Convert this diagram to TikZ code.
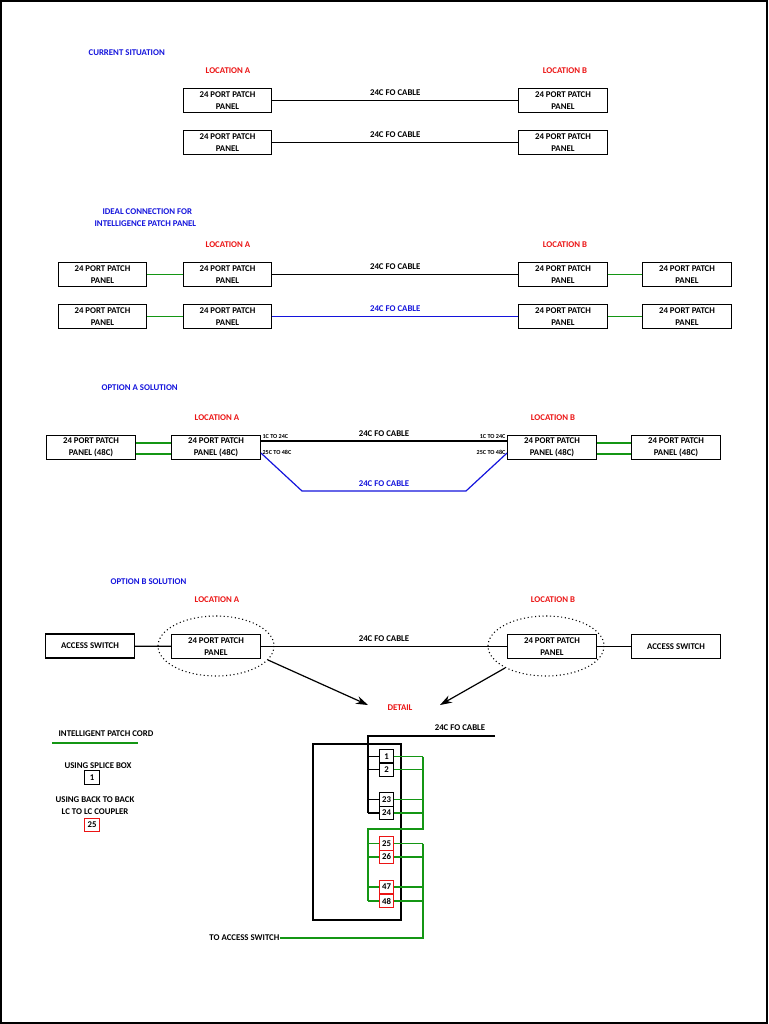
\documentclass[tikz,border=0pt]{standalone}
\usepackage{fontspec}
\setmainfont{Carlito}
\usetikzlibrary{arrows.meta}
\definecolor{gr}{RGB}{20,150,20}
\definecolor{bl}{RGB}{20,20,220}
\definecolor{rd}{RGB}{235,20,20}
\begin{document}
\begin{tikzpicture}[x=0.75pt,y=-0.75pt,line width=0.9pt,
 t/.style={font=\bfseries\fontsize{6.6}{7}\selectfont,inner sep=0pt},
 tb/.style={t,text=bl,anchor=west},
 tr/.style={t,text=rd},
 pp/.style={draw,line width=0.9pt,minimum width=66.5pt,minimum height=18.5pt,inner sep=0pt,font=\bfseries\fontsize{6.6}{9}\selectfont,align=center},
 port/.style={draw,line width=0.9pt,minimum width=11pt,minimum height=10pt,inner sep=0pt,font=\bfseries\fontsize{6.6}{7}\selectfont},
 rport/.style={port,draw=rd},
 sm/.style={font=\bfseries\fontsize{4.6}{5}\selectfont,inner sep=0pt},
 g/.style={gr,line width=1.1pt}, k/.style={black,line width=0.9pt}]
\useasboundingbox (0,0) rectangle (768,1024);
\draw (1,1) rectangle (767,1023);
% section 1
\node[tb] (s1) at (88,53) {CURRENT SITUATION};
\node[tr] (la1) at (228,71) {LOCATION A};
\node[tr] (lb1) at (565,71) {LOCATION B};
\node[pp] (a1) at (227.5,100.5) {24 PORT PATCH\\PANEL};
\node[pp] (b1) at (563,100.5) {24 PORT PATCH\\PANEL};
\node[pp] (a2) at (227.5,142.5) {24 PORT PATCH\\PANEL};
\node[pp] (b2) at (563,142.5) {24 PORT PATCH\\PANEL};
\draw[k] (a1) -- node[t,above=3pt]{24C FO CABLE} (b1);
\draw[k] (a2) -- node[t,above=3pt]{24C FO CABLE} (b2);
% section 2
\node[tb] (s2a) at (102,212) {IDEAL CONNECTION FOR};
\node[tb] (s2b) at (94,224) {INTELLIGENCE PATCH PANEL};
\node[tr] (la2) at (228,245) {LOCATION A};
\node[tr] (lb2) at (565,245) {LOCATION B};
\node[pp] (c1) at (102.5,274.5) {24 PORT PATCH\\PANEL};
\node[pp] (d1) at (227.5,274.5) {24 PORT PATCH\\PANEL};
\node[pp] (e1) at (563,274.5) {24 PORT PATCH\\PANEL};
\node[pp] (f1) at (687,274.5) {24 PORT PATCH\\PANEL};
\node[pp] (c2) at (102.5,316.5) {24 PORT PATCH\\PANEL};
\node[pp] (d2) at (227.5,316.5) {24 PORT PATCH\\PANEL};
\node[pp] (e2) at (563,316.5) {24 PORT PATCH\\PANEL};
\node[pp] (f2) at (687,316.5) {24 PORT PATCH\\PANEL};
\draw[g] (c1) -- (d1); \draw[g] (e1) -- (f1);
\draw[g] (c2) -- (d2); \draw[g] (e2) -- (f2);
\draw[k] (d1) -- node[t,above=3pt]{24C FO CABLE} (e1);
\draw[bl] (d2) -- node[t,above=3pt]{24C FO CABLE} (e2);
% section 3
\node[tb] (s3) at (101,388) {OPTION A SOLUTION};
\node[tr] (la3) at (217,418) {LOCATION A};
\node[tr] (lb3) at (553,418) {LOCATION B};
\node[pp] (g1) at (91,447.5) {24 PORT PATCH\\PANEL (48C)};
\node[pp] (h1) at (216,447.5) {24 PORT PATCH\\PANEL (48C)};
\node[pp] (i1) at (552,447.5) {24 PORT PATCH\\PANEL (48C)};
\node[pp] (j1) at (676,447.5) {24 PORT PATCH\\PANEL (48C)};
\draw[g] (g1.east|-0,443) -- (h1.west|-0,443);
\draw[g] (g1.east|-0,454) -- (h1.west|-0,454);
\draw[g] (i1.east|-0,443) -- (j1.west|-0,443);
\draw[g] (i1.east|-0,454) -- (j1.west|-0,454);
\draw[k] (h1.east|-0,441) -- node[t,above=3pt]{24C FO CABLE} (i1.west|-0,441);
\coordinate (q1) at (302,491); \coordinate (q2) at (466,491);
\draw[bl] (h1.east|-0,453) -- (q1) -- node[t,above=3pt]{24C FO CABLE} (q2) -- (i1.west|-0,453);
\node[sm,anchor=west] (x1) at (262,437) {1C TO 24C};
\node[sm,anchor=west] (x2) at (262,452) {25C TO 48C};
\node[sm,anchor=east] (x3) at (506,437) {1C TO 24C};
\node[sm,anchor=east] (x4) at (506,452) {25C TO 48C};
% section 4
\node[tb] (s4) at (110,582) {OPTION B SOLUTION};
\node[tr] (la4) at (217,600) {LOCATION A};
\node[tr] (lb4) at (553,600) {LOCATION B};
\node[pp,minimum height=18pt] (as1) at (90,646) {ACCESS SWITCH};
\node[pp] (p1) at (216,646.5) {24 PORT PATCH\\PANEL};
\node[pp] (p2) at (552,646.5) {24 PORT PATCH\\PANEL};
\node[pp,minimum height=18pt] (as2) at (676,646.5) {ACCESS SWITCH};
\draw[dotted,thick] (216,646) ellipse [x radius=58, y radius=30];
\draw[dotted,thick] (546,646) ellipse [x radius=58, y radius=30];
\draw[k] (as1) -- (p1);
\draw[k] (p1) -- node[t,above=3pt]{24C FO CABLE} (p2);
\draw[k] (p2) -- (as2);
\node[tr] (det) at (400,708) {DETAIL};
\coordinate (ar1) at (268,660); \coordinate (ar2) at (505,668);
\draw[-{Stealth[length=9pt,width=6pt]}] (ar1) -- (368,705);
\draw[-{Stealth[length=9pt,width=6pt]}] (ar2) -- (440,705);
% legend
\node[t] (lg1) at (106,734) {INTELLIGENT PATCH CORD};
\draw[g] (52,743) -- (138,743);
\node[t] (lg2) at (98,766) {USING SPLICE BOX};
\node[port] (lp1) at (92,777.5) {1};
\node[t] (lg3) at (95,800) {USING BACK TO BACK};
\node[t] (lg4) at (95,812) {LC TO LC COUPLER};
\node[rport] (lp2) at (92,825) {25};
% detail
\draw (313,744) rectangle (401,920);
\node[t] (cab) at (460,728) {24C FO CABLE};
\draw[k] (495,736) -- (368,736) -- (368,813);
\foreach \n/\y in {1/756.5,2/769.5,23/799.5,24/813}
 { \draw[k] (368,\y) -- (379,\y);
   \draw[g] (394,\y) -- (423,\y);
   \node[port] (n\n) at (386.5,\y) {\n}; }
\foreach \n/\y in {25/843.5,26/857,47/887,48/901}
 { \draw[g] (368,\y) -- (379,\y);
   \draw[g] (394,\y) -- (423,\y);
   \node[rport,fill=white] (n\n) at (386.5,\y) {\n}; }
\draw[g] (423,756.5) -- (423,829) -- (368,829) -- (368,901);
\node[t,anchor=east] (tas) at (280,938) {TO ACCESS SWITCH};
\draw[g] (423,843.5) -- (423,938) -- (tas.east);
\end{tikzpicture}
\end{document}
